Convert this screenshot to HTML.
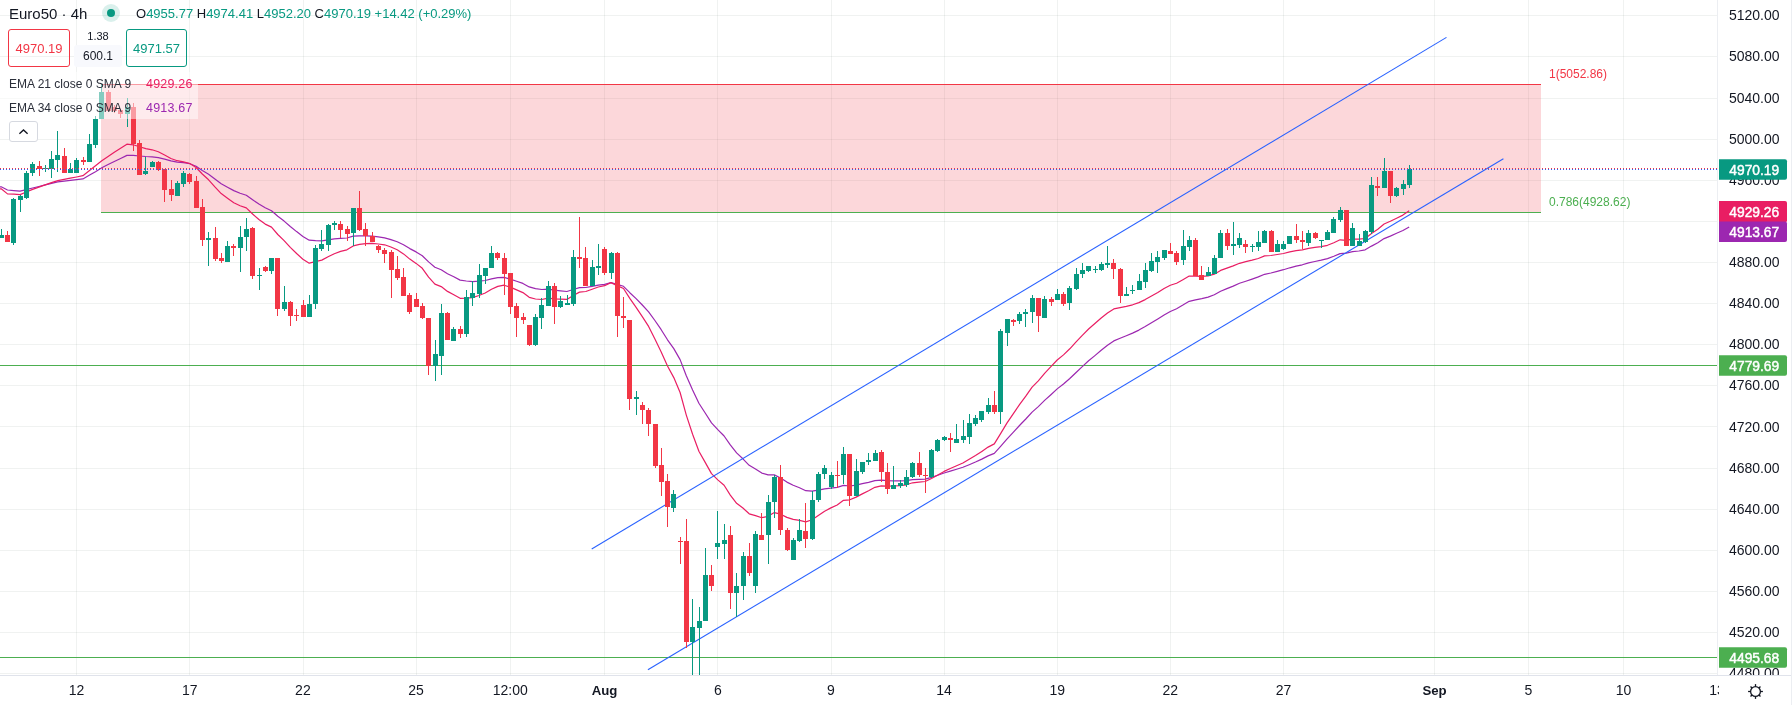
<!DOCTYPE html><html><head><meta charset="utf-8"><style>
html,body{margin:0;padding:0;background:#fff;width:1792px;height:705px;overflow:hidden;font-family:"Liberation Sans",sans-serif;}
svg{position:absolute;left:0;top:0;} body>*{will-change:transform;}
.t{font-family:"Liberation Sans",sans-serif;}
</style></head><body>
<svg width="1792" height="705" viewBox="0 0 1792 705">
<defs><clipPath id="cc"><rect x="0" y="0" width="1717" height="675"/></clipPath></defs>
<g stroke="rgba(30,55,45,0.065)" stroke-width="1" shape-rendering="crispEdges">
<line x1="0" y1="15.5" x2="1717" y2="15.5"/>
<line x1="0" y1="56.5" x2="1717" y2="56.5"/>
<line x1="0" y1="98.5" x2="1717" y2="98.5"/>
<line x1="0" y1="139.5" x2="1717" y2="139.5"/>
<line x1="0" y1="180.5" x2="1717" y2="180.5"/>
<line x1="0" y1="221.5" x2="1717" y2="221.5"/>
<line x1="0" y1="262.5" x2="1717" y2="262.5"/>
<line x1="0" y1="303.5" x2="1717" y2="303.5"/>
<line x1="0" y1="344.5" x2="1717" y2="344.5"/>
<line x1="0" y1="385.5" x2="1717" y2="385.5"/>
<line x1="0" y1="426.5" x2="1717" y2="426.5"/>
<line x1="0" y1="468.5" x2="1717" y2="468.5"/>
<line x1="0" y1="509.5" x2="1717" y2="509.5"/>
<line x1="0" y1="550.5" x2="1717" y2="550.5"/>
<line x1="0" y1="591.5" x2="1717" y2="591.5"/>
<line x1="0" y1="632.5" x2="1717" y2="632.5"/>
<line x1="0" y1="673.5" x2="1717" y2="673.5"/>
<line x1="76.5" y1="0" x2="76.5" y2="675"/>
<line x1="189.5" y1="0" x2="189.5" y2="675"/>
<line x1="303.5" y1="0" x2="303.5" y2="675"/>
<line x1="416.5" y1="0" x2="416.5" y2="675"/>
<line x1="510.5" y1="0" x2="510.5" y2="675"/>
<line x1="604.5" y1="0" x2="604.5" y2="675"/>
<line x1="717.5" y1="0" x2="717.5" y2="675"/>
<line x1="831.5" y1="0" x2="831.5" y2="675"/>
<line x1="944.5" y1="0" x2="944.5" y2="675"/>
<line x1="1057.5" y1="0" x2="1057.5" y2="675"/>
<line x1="1170.5" y1="0" x2="1170.5" y2="675"/>
<line x1="1283.5" y1="0" x2="1283.5" y2="675"/>
<line x1="1434.5" y1="0" x2="1434.5" y2="675"/>
<line x1="1528.5" y1="0" x2="1528.5" y2="675"/>
<line x1="1623.5" y1="0" x2="1623.5" y2="675"/>
</g>
<rect x="101" y="84.3" width="1440" height="127.8" fill="rgba(242,54,69,0.2)"/>
<line x1="101" y1="84.5" x2="1541" y2="84.5" stroke="#f23645" stroke-width="1" shape-rendering="crispEdges"/>
<line x1="101" y1="212.5" x2="1541" y2="212.5" stroke="#4caf50" stroke-width="1" shape-rendering="crispEdges"/>
<text class="t" x="1549" y="78" font-size="12" fill="#f23645">1(5052.86)</text>
<text class="t" x="1549" y="206" font-size="12" fill="#4caf50">0.786(4928.62)</text>
<line x1="0" y1="365.5" x2="1717" y2="365.5" stroke="#4caf50" stroke-width="1" shape-rendering="crispEdges"/>
<line x1="0" y1="657.5" x2="1717" y2="657.5" stroke="#4caf50" stroke-width="1" shape-rendering="crispEdges"/>
<polyline points="0,186.8 1.2,186.8 7.5,190.0 13.8,190.6 20.1,191.2 26.3,189.6 32.6,188.0 38.9,186.5 45.2,184.9 51.5,183.3 57.8,181.9 64.1,181.2 70.3,180.4 76.6,179.7 82.9,178.9 89.2,175.3 95.5,171.7 101.8,167.7 108.1,164.5 114.3,161.5 120.6,158.5 126.9,155.4 133.2,155.3 139.5,156.0 145.8,156.5 152.1,156.8 158.3,157.6 164.6,159.1 170.9,160.9 177.2,162.1 183.5,162.7 189.8,163.7 196.1,166.2 202.3,170.4 208.6,174.2 214.9,179.0 221.2,183.7 227.5,187.2 233.8,190.6 240.1,193.3 246.3,195.3 252.6,199.8 258.9,204.1 265.2,207.8 271.5,210.7 277.8,216.3 284.1,221.1 290.3,226.5 296.6,231.6 302.9,236.4 309.2,240.2 315.5,240.6 321.8,240.8 328.1,239.8 334.3,238.8 340.6,238.3 346.9,238.0 353.2,236.2 359.5,235.8 365.8,235.8 372.1,236.1 378.3,236.9 384.6,237.8 390.9,239.6 397.2,241.8 403.5,244.8 409.8,248.6 416.1,251.9 422.3,255.7 428.6,261.9 434.9,267.2 441.2,269.7 447.5,273.7 453.8,276.8 460.1,280.1 466.3,281.0 472.6,281.6 478.9,281.2 485.2,280.5 491.5,278.8 497.8,277.6 504.1,277.4 510.3,279.1 516.6,281.3 522.9,283.4 529.2,286.9 535.5,288.6 541.8,289.5 548.1,289.2 554.3,290.2 560.6,290.8 566.9,291.5 573.2,289.5 579.5,287.7 585.8,287.5 592.1,286.3 598.3,285.1 604.6,284.4 610.9,282.6 617.2,284.4 623.5,286.3 629.8,292.7 636.1,298.6 642.3,305.0 648.6,311.8 654.9,320.5 661.2,329.7 667.5,339.8 673.8,348.6 680.1,359.6 686.3,375.7 692.6,390.0 698.9,403.2 705.2,413.0 711.5,422.9 717.8,429.7 724.1,436.0 730.3,444.9 736.6,452.9 742.9,458.8 749.2,465.3 755.5,469.1 761.8,473.1 768.1,474.8 774.3,474.9 780.6,478.0 786.9,482.1 793.2,485.3 799.5,487.8 805.8,490.7 812.1,491.2 818.3,490.2 824.6,488.9 830.9,488.1 837.2,487.4 843.5,485.4 849.8,486.0 856.1,485.1 862.3,483.7 868.6,482.3 874.9,480.6 881.2,480.1 887.5,480.6 893.8,480.8 900.1,480.9 906.3,480.7 912.6,479.7 918.9,479.4 925.2,479.1 931.5,477.4 937.8,475.2 944.1,473.0 950.3,471.1 956.6,469.2 962.9,467.3 969.2,464.7 975.5,462.0 981.8,459.1 988.1,455.9 994.3,453.4 1000.6,446.4 1006.9,439.1 1013.2,432.3 1019.5,425.5 1025.8,419.0 1032.1,412.1 1038.3,406.6 1044.6,400.4 1050.9,394.7 1057.2,388.9 1063.5,384.0 1069.8,378.5 1076.1,372.5 1082.3,366.6 1088.6,360.8 1094.9,355.6 1101.2,350.3 1107.5,345.3 1113.8,340.9 1120.1,338.3 1126.3,335.7 1132.6,333.1 1138.9,330.1 1145.2,326.6 1151.5,322.8 1157.8,319.0 1164.1,315.1 1170.3,311.5 1176.6,308.7 1182.9,305.1 1189.2,301.3 1195.5,299.8 1201.8,298.7 1208.1,297.1 1214.3,294.8 1220.6,291.3 1226.9,288.6 1233.2,286.1 1239.5,283.3 1245.8,281.2 1252.1,279.1 1258.3,276.9 1264.6,274.3 1270.9,273.0 1277.2,271.3 1283.5,269.7 1289.8,267.8 1296.1,266.2 1302.3,264.8 1308.6,262.9 1314.9,261.5 1321.2,260.2 1327.5,258.6 1333.8,256.3 1340.1,253.6 1346.3,253.1 1352.6,251.6 1358.9,251.0 1365.2,249.8 1371.5,246.1 1377.8,242.7 1384.1,238.6 1390.3,236.1 1396.6,233.3 1402.9,230.5 1409.2,226.9" fill="none" stroke="#9c27b0" stroke-width="1.2" stroke-linejoin="round"/>
<polyline points="0,188.8 1.2,188.8 7.5,193.9 13.8,194.2 20.1,194.6 26.3,192.0 32.6,189.4 38.9,187.1 45.2,184.9 51.5,182.6 57.8,180.6 64.1,179.4 70.3,178.2 76.6,177.0 82.9,175.7 89.2,170.8 95.5,165.7 101.8,160.8 108.1,156.6 114.3,152.3 120.6,148.3 126.9,144.2 133.2,144.8 139.5,146.7 145.8,148.6 152.1,149.8 158.3,151.8 164.6,155.0 170.9,158.5 177.2,160.7 183.5,161.8 189.8,163.5 196.1,167.5 202.3,174.0 208.6,179.8 214.9,186.9 221.2,193.6 227.5,198.3 233.8,202.8 240.1,205.8 246.3,207.9 252.6,214.0 258.9,219.5 265.2,224.1 271.5,227.1 277.8,234.5 284.1,240.6 290.3,247.4 296.6,253.5 302.9,259.2 309.2,263.2 315.5,261.7 321.8,260.1 328.1,256.8 334.3,253.7 340.6,251.4 346.9,249.8 353.2,245.9 359.5,244.4 365.8,243.6 372.1,243.4 378.3,244.0 384.6,244.8 390.9,247.0 397.2,249.8 403.5,253.9 409.8,259.1 416.1,263.4 422.3,268.3 428.6,277.1 434.9,284.1 441.2,286.6 447.5,291.4 453.8,294.8 460.1,298.3 466.3,298.1 472.6,297.6 478.9,295.5 485.2,293.0 491.5,289.2 497.8,286.4 504.1,285.2 510.3,287.1 516.6,289.9 522.9,292.6 529.2,297.3 535.5,299.0 541.8,299.5 548.1,298.2 554.3,298.9 560.6,299.1 566.9,299.4 573.2,295.5 579.5,292.1 585.8,291.5 592.1,289.2 598.3,287.0 604.6,285.7 610.9,282.6 617.2,285.6 623.5,288.5 629.8,298.4 636.1,307.3 642.3,316.6 648.6,326.4 654.9,339.0 661.2,351.9 667.5,366.0 673.8,377.6 680.1,392.5 686.3,415.1 692.6,434.3 698.9,451.2 705.2,462.4 711.5,473.6 717.8,479.9 724.1,485.3 730.3,495.1 736.6,503.3 742.9,508.0 749.2,513.8 755.5,515.6 761.8,517.7 768.1,516.3 774.3,512.6 780.6,514.2 786.9,517.4 793.2,519.4 799.5,520.3 805.8,521.9 812.1,519.8 818.3,515.6 824.6,511.2 830.9,507.9 837.2,505.0 843.5,500.3 849.8,499.8 856.1,497.1 862.3,493.9 868.6,490.8 874.9,487.3 881.2,485.9 887.5,486.1 893.8,486.0 900.1,485.6 906.3,484.8 912.6,482.8 918.9,482.1 925.2,481.5 931.5,478.5 937.8,475.0 944.1,471.4 950.3,468.5 956.6,465.8 962.9,463.0 969.2,459.3 975.5,455.5 981.8,451.4 988.1,447.1 994.3,443.9 1000.6,433.6 1006.9,423.1 1013.2,413.8 1019.5,404.7 1025.8,396.2 1032.1,387.2 1038.3,380.8 1044.6,373.3 1050.9,366.7 1057.2,360.0 1063.5,354.9 1069.8,348.8 1076.1,341.9 1082.3,335.3 1088.6,329.0 1094.9,323.5 1101.2,318.0 1107.5,313.0 1113.8,308.9 1120.1,307.7 1126.3,306.4 1132.6,304.8 1138.9,302.6 1145.2,299.6 1151.5,296.0 1157.8,292.5 1164.1,288.5 1170.3,285.3 1176.6,283.2 1182.9,279.7 1189.2,276.1 1195.5,276.1 1201.8,276.3 1208.1,275.9 1214.3,274.2 1220.6,270.4 1226.9,268.1 1233.2,265.9 1239.5,263.3 1245.8,261.7 1252.1,260.2 1258.3,258.5 1264.6,255.9 1270.9,255.5 1277.2,254.5 1283.5,253.5 1289.8,251.8 1296.1,250.7 1302.3,249.9 1308.6,248.3 1314.9,247.4 1321.2,246.7 1327.5,245.3 1333.8,242.8 1340.1,239.8 1346.3,240.3 1352.6,239.1 1358.9,239.2 1365.2,238.5 1371.5,233.5 1377.8,229.3 1384.1,224.0 1390.3,221.3 1396.6,218.2 1402.9,215.1 1409.2,210.8" fill="none" stroke="#e91e63" stroke-width="1.2" stroke-linejoin="round"/>
<line x1="591.7" y1="549" x2="1446.5" y2="37.4" stroke="#2962ff" stroke-width="1.1"/>
<line x1="647.9" y1="669.8" x2="1503.4" y2="158.7" stroke="#2962ff" stroke-width="1.1"/>
<g clip-path="url(#cc)" shape-rendering="crispEdges">
<rect x="1" y="229" width="1" height="9" fill="#089981"/>
<rect x="-1" y="235" width="5" height="3" fill="#089981"/>
<rect x="7" y="231" width="1" height="11" fill="#f23645"/>
<rect x="5" y="235" width="5" height="7" fill="#f23645"/>
<rect x="13" y="198" width="1" height="47" fill="#089981"/>
<rect x="11" y="199" width="5" height="44" fill="#089981"/>
<rect x="20" y="195" width="1" height="17" fill="#089981"/>
<rect x="18" y="196" width="5" height="4" fill="#089981"/>
<rect x="26" y="171" width="1" height="28" fill="#089981"/>
<rect x="24" y="173" width="5" height="25" fill="#089981"/>
<rect x="32" y="162" width="1" height="14" fill="#089981"/>
<rect x="30" y="164" width="5" height="9" fill="#089981"/>
<rect x="39" y="161" width="1" height="15" fill="#f23645"/>
<rect x="37" y="166" width="5" height="3" fill="#f23645"/>
<rect x="45" y="165" width="1" height="7" fill="#089981"/>
<rect x="43" y="168" width="5" height="1" fill="#089981"/>
<rect x="51" y="151" width="1" height="27" fill="#089981"/>
<rect x="49" y="159" width="5" height="10" fill="#089981"/>
<rect x="57" y="131" width="1" height="41" fill="#089981"/>
<rect x="55" y="155" width="5" height="5" fill="#089981"/>
<rect x="64" y="148" width="1" height="25" fill="#f23645"/>
<rect x="62" y="156" width="5" height="17" fill="#f23645"/>
<rect x="70" y="163" width="1" height="10" fill="#089981"/>
<rect x="68" y="169" width="5" height="4" fill="#089981"/>
<rect x="76" y="158" width="1" height="15" fill="#089981"/>
<rect x="74" y="160" width="5" height="13" fill="#089981"/>
<rect x="83" y="157" width="1" height="8" fill="#f23645"/>
<rect x="81" y="160" width="5" height="2" fill="#f23645"/>
<rect x="89" y="134" width="1" height="28" fill="#089981"/>
<rect x="87" y="144" width="5" height="18" fill="#089981"/>
<rect x="95" y="116" width="1" height="32" fill="#089981"/>
<rect x="93" y="119" width="5" height="26" fill="#089981"/>
<rect x="101" y="84" width="1" height="35" fill="#089981"/>
<rect x="99" y="92" width="5" height="27" fill="#089981"/>
<rect x="108" y="90" width="1" height="21" fill="#f23645"/>
<rect x="106" y="92" width="5" height="19" fill="#f23645"/>
<rect x="114" y="105" width="1" height="8" fill="#f23645"/>
<rect x="112" y="107" width="5" height="4" fill="#f23645"/>
<rect x="120" y="109" width="1" height="9" fill="#f23645"/>
<rect x="118" y="110" width="5" height="4" fill="#f23645"/>
<rect x="127" y="98" width="1" height="29" fill="#089981"/>
<rect x="125" y="107" width="5" height="7" fill="#089981"/>
<rect x="133" y="103" width="1" height="48" fill="#f23645"/>
<rect x="131" y="107" width="5" height="37" fill="#f23645"/>
<rect x="139" y="140" width="1" height="35" fill="#f23645"/>
<rect x="137" y="143" width="5" height="32" fill="#f23645"/>
<rect x="145" y="157" width="1" height="18" fill="#089981"/>
<rect x="143" y="171" width="5" height="3" fill="#089981"/>
<rect x="152" y="161" width="1" height="6" fill="#089981"/>
<rect x="150" y="162" width="5" height="5" fill="#089981"/>
<rect x="158" y="161" width="1" height="10" fill="#f23645"/>
<rect x="156" y="162" width="5" height="8" fill="#f23645"/>
<rect x="164" y="169" width="1" height="33" fill="#f23645"/>
<rect x="162" y="169" width="5" height="21" fill="#f23645"/>
<rect x="171" y="180" width="1" height="21" fill="#f23645"/>
<rect x="169" y="189" width="5" height="6" fill="#f23645"/>
<rect x="177" y="181" width="1" height="15" fill="#089981"/>
<rect x="175" y="183" width="5" height="13" fill="#089981"/>
<rect x="183" y="171" width="1" height="16" fill="#089981"/>
<rect x="181" y="173" width="5" height="11" fill="#089981"/>
<rect x="189" y="173" width="1" height="11" fill="#f23645"/>
<rect x="187" y="174" width="5" height="8" fill="#f23645"/>
<rect x="196" y="176" width="1" height="32" fill="#f23645"/>
<rect x="194" y="181" width="5" height="27" fill="#f23645"/>
<rect x="202" y="199" width="1" height="47" fill="#f23645"/>
<rect x="200" y="207" width="5" height="33" fill="#f23645"/>
<rect x="208" y="232" width="1" height="34" fill="#089981"/>
<rect x="206" y="238" width="5" height="2" fill="#089981"/>
<rect x="215" y="227" width="1" height="34" fill="#f23645"/>
<rect x="213" y="238" width="5" height="21" fill="#f23645"/>
<rect x="221" y="253" width="1" height="10" fill="#f23645"/>
<rect x="219" y="258" width="5" height="3" fill="#f23645"/>
<rect x="227" y="241" width="1" height="21" fill="#089981"/>
<rect x="225" y="246" width="5" height="16" fill="#089981"/>
<rect x="233" y="244" width="1" height="12" fill="#f23645"/>
<rect x="231" y="246" width="5" height="2" fill="#f23645"/>
<rect x="240" y="226" width="1" height="46" fill="#089981"/>
<rect x="238" y="237" width="5" height="11" fill="#089981"/>
<rect x="246" y="218" width="1" height="33" fill="#089981"/>
<rect x="244" y="229" width="5" height="8" fill="#089981"/>
<rect x="252" y="227" width="1" height="52" fill="#f23645"/>
<rect x="250" y="228" width="5" height="48" fill="#f23645"/>
<rect x="259" y="268" width="1" height="22" fill="#089981"/>
<rect x="257" y="275" width="5" height="1" fill="#089981"/>
<rect x="265" y="266" width="1" height="6" fill="#f23645"/>
<rect x="263" y="267" width="5" height="4" fill="#f23645"/>
<rect x="271" y="258" width="1" height="16" fill="#089981"/>
<rect x="269" y="258" width="5" height="13" fill="#089981"/>
<rect x="277" y="258" width="1" height="58" fill="#f23645"/>
<rect x="275" y="258" width="5" height="51" fill="#f23645"/>
<rect x="284" y="286" width="1" height="25" fill="#089981"/>
<rect x="282" y="302" width="5" height="7" fill="#089981"/>
<rect x="290" y="301" width="1" height="25" fill="#f23645"/>
<rect x="288" y="302" width="5" height="14" fill="#f23645"/>
<rect x="296" y="309" width="1" height="12" fill="#f23645"/>
<rect x="294" y="315" width="5" height="1" fill="#f23645"/>
<rect x="303" y="300" width="1" height="17" fill="#f23645"/>
<rect x="301" y="305" width="5" height="12" fill="#f23645"/>
<rect x="309" y="295" width="1" height="22" fill="#089981"/>
<rect x="307" y="304" width="5" height="13" fill="#089981"/>
<rect x="315" y="245" width="1" height="64" fill="#089981"/>
<rect x="313" y="248" width="5" height="56" fill="#089981"/>
<rect x="321" y="230" width="1" height="21" fill="#089981"/>
<rect x="319" y="244" width="5" height="5" fill="#089981"/>
<rect x="328" y="224" width="1" height="27" fill="#089981"/>
<rect x="326" y="225" width="5" height="20" fill="#089981"/>
<rect x="334" y="221" width="1" height="9" fill="#089981"/>
<rect x="332" y="223" width="5" height="2" fill="#089981"/>
<rect x="340" y="221" width="1" height="17" fill="#f23645"/>
<rect x="338" y="224" width="5" height="6" fill="#f23645"/>
<rect x="347" y="226" width="1" height="15" fill="#f23645"/>
<rect x="345" y="229" width="5" height="5" fill="#f23645"/>
<rect x="353" y="208" width="1" height="38" fill="#089981"/>
<rect x="351" y="208" width="5" height="25" fill="#089981"/>
<rect x="359" y="191" width="1" height="40" fill="#f23645"/>
<rect x="357" y="208" width="5" height="22" fill="#f23645"/>
<rect x="365" y="223" width="1" height="23" fill="#f23645"/>
<rect x="363" y="229" width="5" height="7" fill="#f23645"/>
<rect x="372" y="232" width="1" height="10" fill="#f23645"/>
<rect x="370" y="236" width="5" height="6" fill="#f23645"/>
<rect x="378" y="245" width="1" height="8" fill="#f23645"/>
<rect x="376" y="246" width="5" height="4" fill="#f23645"/>
<rect x="384" y="248" width="1" height="15" fill="#f23645"/>
<rect x="382" y="250" width="5" height="4" fill="#f23645"/>
<rect x="391" y="250" width="1" height="48" fill="#f23645"/>
<rect x="389" y="252" width="5" height="18" fill="#f23645"/>
<rect x="397" y="256" width="1" height="24" fill="#f23645"/>
<rect x="395" y="269" width="5" height="9" fill="#f23645"/>
<rect x="403" y="268" width="1" height="28" fill="#f23645"/>
<rect x="401" y="277" width="5" height="19" fill="#f23645"/>
<rect x="409" y="293" width="1" height="21" fill="#f23645"/>
<rect x="407" y="295" width="5" height="17" fill="#f23645"/>
<rect x="416" y="293" width="1" height="14" fill="#f23645"/>
<rect x="414" y="299" width="5" height="8" fill="#f23645"/>
<rect x="422" y="303" width="1" height="16" fill="#f23645"/>
<rect x="420" y="306" width="5" height="12" fill="#f23645"/>
<rect x="428" y="318" width="1" height="57" fill="#f23645"/>
<rect x="426" y="318" width="5" height="48" fill="#f23645"/>
<rect x="435" y="340" width="1" height="41" fill="#089981"/>
<rect x="433" y="354" width="5" height="12" fill="#089981"/>
<rect x="441" y="304" width="1" height="71" fill="#089981"/>
<rect x="439" y="313" width="5" height="43" fill="#089981"/>
<rect x="447" y="312" width="1" height="28" fill="#f23645"/>
<rect x="445" y="313" width="5" height="27" fill="#f23645"/>
<rect x="453" y="327" width="1" height="14" fill="#089981"/>
<rect x="451" y="329" width="5" height="12" fill="#089981"/>
<rect x="460" y="326" width="1" height="12" fill="#f23645"/>
<rect x="458" y="329" width="5" height="5" fill="#f23645"/>
<rect x="466" y="290" width="1" height="47" fill="#089981"/>
<rect x="464" y="297" width="5" height="37" fill="#089981"/>
<rect x="472" y="281" width="1" height="25" fill="#089981"/>
<rect x="470" y="293" width="5" height="5" fill="#089981"/>
<rect x="479" y="264" width="1" height="34" fill="#089981"/>
<rect x="477" y="275" width="5" height="19" fill="#089981"/>
<rect x="485" y="268" width="1" height="16" fill="#089981"/>
<rect x="483" y="268" width="5" height="8" fill="#089981"/>
<rect x="491" y="246" width="1" height="22" fill="#089981"/>
<rect x="489" y="253" width="5" height="15" fill="#089981"/>
<rect x="497" y="252" width="1" height="8" fill="#f23645"/>
<rect x="495" y="253" width="5" height="5" fill="#f23645"/>
<rect x="504" y="253" width="1" height="42" fill="#f23645"/>
<rect x="502" y="258" width="5" height="16" fill="#f23645"/>
<rect x="510" y="273" width="1" height="41" fill="#f23645"/>
<rect x="508" y="273" width="5" height="34" fill="#f23645"/>
<rect x="516" y="303" width="1" height="34" fill="#f23645"/>
<rect x="514" y="306" width="5" height="12" fill="#f23645"/>
<rect x="523" y="313" width="1" height="11" fill="#f23645"/>
<rect x="521" y="317" width="5" height="3" fill="#f23645"/>
<rect x="529" y="325" width="1" height="21" fill="#f23645"/>
<rect x="527" y="325" width="5" height="20" fill="#f23645"/>
<rect x="535" y="314" width="1" height="32" fill="#089981"/>
<rect x="533" y="317" width="5" height="28" fill="#089981"/>
<rect x="541" y="298" width="1" height="31" fill="#089981"/>
<rect x="539" y="305" width="5" height="13" fill="#089981"/>
<rect x="548" y="281" width="1" height="25" fill="#089981"/>
<rect x="546" y="286" width="5" height="20" fill="#089981"/>
<rect x="554" y="283" width="1" height="41" fill="#f23645"/>
<rect x="552" y="286" width="5" height="21" fill="#f23645"/>
<rect x="560" y="296" width="1" height="12" fill="#089981"/>
<rect x="558" y="301" width="5" height="6" fill="#089981"/>
<rect x="567" y="295" width="1" height="10" fill="#089981"/>
<rect x="565" y="303" width="5" height="2" fill="#089981"/>
<rect x="573" y="250" width="1" height="56" fill="#089981"/>
<rect x="571" y="257" width="5" height="47" fill="#089981"/>
<rect x="579" y="217" width="1" height="51" fill="#f23645"/>
<rect x="577" y="257" width="5" height="2" fill="#f23645"/>
<rect x="585" y="247" width="1" height="39" fill="#f23645"/>
<rect x="583" y="258" width="5" height="28" fill="#f23645"/>
<rect x="592" y="260" width="1" height="26" fill="#089981"/>
<rect x="590" y="267" width="5" height="19" fill="#089981"/>
<rect x="598" y="244" width="1" height="31" fill="#089981"/>
<rect x="596" y="266" width="5" height="2" fill="#089981"/>
<rect x="604" y="247" width="1" height="28" fill="#f23645"/>
<rect x="602" y="249" width="5" height="24" fill="#f23645"/>
<rect x="611" y="252" width="1" height="27" fill="#089981"/>
<rect x="609" y="253" width="5" height="20" fill="#089981"/>
<rect x="617" y="252" width="1" height="85" fill="#f23645"/>
<rect x="615" y="253" width="5" height="63" fill="#f23645"/>
<rect x="623" y="297" width="1" height="31" fill="#f23645"/>
<rect x="621" y="316" width="5" height="2" fill="#f23645"/>
<rect x="629" y="320" width="1" height="90" fill="#f23645"/>
<rect x="627" y="320" width="5" height="79" fill="#f23645"/>
<rect x="636" y="391" width="1" height="24" fill="#089981"/>
<rect x="634" y="397" width="5" height="2" fill="#089981"/>
<rect x="642" y="402" width="1" height="22" fill="#f23645"/>
<rect x="640" y="405" width="5" height="5" fill="#f23645"/>
<rect x="648" y="408" width="1" height="28" fill="#f23645"/>
<rect x="646" y="410" width="5" height="14" fill="#f23645"/>
<rect x="655" y="424" width="1" height="44" fill="#f23645"/>
<rect x="653" y="424" width="5" height="42" fill="#f23645"/>
<rect x="661" y="448" width="1" height="48" fill="#f23645"/>
<rect x="659" y="465" width="5" height="17" fill="#f23645"/>
<rect x="667" y="474" width="1" height="53" fill="#f23645"/>
<rect x="665" y="481" width="5" height="26" fill="#f23645"/>
<rect x="673" y="490" width="1" height="22" fill="#089981"/>
<rect x="671" y="494" width="5" height="14" fill="#089981"/>
<rect x="680" y="537" width="1" height="27" fill="#f23645"/>
<rect x="678" y="541" width="5" height="1" fill="#f23645"/>
<rect x="686" y="519" width="1" height="129" fill="#f23645"/>
<rect x="684" y="541" width="5" height="101" fill="#f23645"/>
<rect x="692" y="599" width="1" height="76" fill="#089981"/>
<rect x="690" y="627" width="5" height="15" fill="#089981"/>
<rect x="699" y="607" width="1" height="68" fill="#089981"/>
<rect x="697" y="621" width="5" height="7" fill="#089981"/>
<rect x="705" y="548" width="1" height="73" fill="#089981"/>
<rect x="703" y="575" width="5" height="46" fill="#089981"/>
<rect x="711" y="565" width="1" height="26" fill="#f23645"/>
<rect x="709" y="575" width="5" height="11" fill="#f23645"/>
<rect x="717" y="511" width="1" height="48" fill="#089981"/>
<rect x="715" y="543" width="5" height="4" fill="#089981"/>
<rect x="724" y="524" width="1" height="35" fill="#089981"/>
<rect x="722" y="540" width="5" height="4" fill="#089981"/>
<rect x="730" y="526" width="1" height="83" fill="#f23645"/>
<rect x="728" y="535" width="5" height="58" fill="#f23645"/>
<rect x="736" y="573" width="1" height="44" fill="#089981"/>
<rect x="734" y="586" width="5" height="7" fill="#089981"/>
<rect x="743" y="552" width="1" height="48" fill="#089981"/>
<rect x="741" y="556" width="5" height="30" fill="#089981"/>
<rect x="749" y="543" width="1" height="33" fill="#f23645"/>
<rect x="747" y="556" width="5" height="17" fill="#f23645"/>
<rect x="755" y="531" width="1" height="62" fill="#089981"/>
<rect x="753" y="534" width="5" height="52" fill="#089981"/>
<rect x="761" y="513" width="1" height="27" fill="#f23645"/>
<rect x="759" y="535" width="5" height="5" fill="#f23645"/>
<rect x="768" y="495" width="1" height="69" fill="#089981"/>
<rect x="766" y="502" width="5" height="33" fill="#089981"/>
<rect x="774" y="475" width="1" height="43" fill="#089981"/>
<rect x="772" y="477" width="5" height="25" fill="#089981"/>
<rect x="780" y="465" width="1" height="70" fill="#f23645"/>
<rect x="778" y="477" width="5" height="53" fill="#f23645"/>
<rect x="787" y="528" width="1" height="23" fill="#f23645"/>
<rect x="785" y="530" width="5" height="20" fill="#f23645"/>
<rect x="793" y="538" width="1" height="22" fill="#089981"/>
<rect x="791" y="540" width="5" height="20" fill="#089981"/>
<rect x="799" y="519" width="1" height="23" fill="#089981"/>
<rect x="797" y="530" width="5" height="11" fill="#089981"/>
<rect x="805" y="503" width="1" height="45" fill="#f23645"/>
<rect x="803" y="531" width="5" height="8" fill="#f23645"/>
<rect x="812" y="491" width="1" height="49" fill="#089981"/>
<rect x="810" y="500" width="5" height="39" fill="#089981"/>
<rect x="818" y="472" width="1" height="30" fill="#089981"/>
<rect x="816" y="474" width="5" height="26" fill="#089981"/>
<rect x="824" y="465" width="1" height="14" fill="#089981"/>
<rect x="822" y="468" width="5" height="6" fill="#089981"/>
<rect x="831" y="472" width="1" height="17" fill="#089981"/>
<rect x="829" y="475" width="5" height="12" fill="#089981"/>
<rect x="837" y="461" width="1" height="27" fill="#f23645"/>
<rect x="835" y="475" width="5" height="1" fill="#f23645"/>
<rect x="843" y="447" width="1" height="37" fill="#089981"/>
<rect x="841" y="454" width="5" height="21" fill="#089981"/>
<rect x="849" y="454" width="1" height="52" fill="#f23645"/>
<rect x="847" y="454" width="5" height="42" fill="#f23645"/>
<rect x="856" y="459" width="1" height="37" fill="#089981"/>
<rect x="854" y="471" width="5" height="25" fill="#089981"/>
<rect x="862" y="462" width="1" height="12" fill="#089981"/>
<rect x="860" y="462" width="5" height="10" fill="#089981"/>
<rect x="868" y="453" width="1" height="12" fill="#089981"/>
<rect x="866" y="460" width="5" height="2" fill="#089981"/>
<rect x="875" y="450" width="1" height="11" fill="#089981"/>
<rect x="873" y="453" width="5" height="8" fill="#089981"/>
<rect x="881" y="450" width="1" height="32" fill="#f23645"/>
<rect x="879" y="452" width="5" height="20" fill="#f23645"/>
<rect x="887" y="463" width="1" height="31" fill="#f23645"/>
<rect x="885" y="472" width="5" height="17" fill="#f23645"/>
<rect x="893" y="466" width="1" height="23" fill="#089981"/>
<rect x="891" y="485" width="5" height="4" fill="#089981"/>
<rect x="900" y="480" width="1" height="8" fill="#089981"/>
<rect x="898" y="483" width="5" height="3" fill="#089981"/>
<rect x="906" y="470" width="1" height="17" fill="#089981"/>
<rect x="904" y="477" width="5" height="8" fill="#089981"/>
<rect x="912" y="462" width="1" height="16" fill="#089981"/>
<rect x="910" y="463" width="5" height="14" fill="#089981"/>
<rect x="919" y="452" width="1" height="25" fill="#f23645"/>
<rect x="917" y="463" width="5" height="12" fill="#f23645"/>
<rect x="925" y="468" width="1" height="25" fill="#f23645"/>
<rect x="923" y="475" width="5" height="1" fill="#f23645"/>
<rect x="931" y="449" width="1" height="29" fill="#089981"/>
<rect x="929" y="450" width="5" height="27" fill="#089981"/>
<rect x="937" y="439" width="1" height="13" fill="#089981"/>
<rect x="935" y="440" width="5" height="11" fill="#089981"/>
<rect x="944" y="436" width="1" height="5" fill="#089981"/>
<rect x="942" y="437" width="5" height="3" fill="#089981"/>
<rect x="950" y="433" width="1" height="19" fill="#f23645"/>
<rect x="948" y="438" width="5" height="2" fill="#f23645"/>
<rect x="956" y="424" width="1" height="19" fill="#089981"/>
<rect x="954" y="439" width="5" height="4" fill="#089981"/>
<rect x="963" y="420" width="1" height="23" fill="#089981"/>
<rect x="961" y="436" width="5" height="4" fill="#089981"/>
<rect x="969" y="414" width="1" height="30" fill="#089981"/>
<rect x="967" y="423" width="5" height="14" fill="#089981"/>
<rect x="975" y="415" width="1" height="11" fill="#089981"/>
<rect x="973" y="418" width="5" height="6" fill="#089981"/>
<rect x="981" y="411" width="1" height="11" fill="#089981"/>
<rect x="979" y="411" width="5" height="9" fill="#089981"/>
<rect x="988" y="398" width="1" height="16" fill="#089981"/>
<rect x="986" y="405" width="5" height="7" fill="#089981"/>
<rect x="994" y="391" width="1" height="23" fill="#f23645"/>
<rect x="992" y="405" width="5" height="7" fill="#f23645"/>
<rect x="1000" y="329" width="1" height="95" fill="#089981"/>
<rect x="998" y="331" width="5" height="81" fill="#089981"/>
<rect x="1007" y="319" width="1" height="27" fill="#089981"/>
<rect x="1005" y="319" width="5" height="14" fill="#089981"/>
<rect x="1013" y="319" width="1" height="7" fill="#f23645"/>
<rect x="1011" y="320" width="5" height="2" fill="#f23645"/>
<rect x="1019" y="312" width="1" height="12" fill="#089981"/>
<rect x="1017" y="314" width="5" height="7" fill="#089981"/>
<rect x="1025" y="309" width="1" height="18" fill="#089981"/>
<rect x="1023" y="312" width="5" height="2" fill="#089981"/>
<rect x="1032" y="295" width="1" height="28" fill="#089981"/>
<rect x="1030" y="298" width="5" height="14" fill="#089981"/>
<rect x="1038" y="298" width="1" height="34" fill="#f23645"/>
<rect x="1036" y="298" width="5" height="18" fill="#f23645"/>
<rect x="1044" y="296" width="1" height="22" fill="#089981"/>
<rect x="1042" y="299" width="5" height="19" fill="#089981"/>
<rect x="1051" y="297" width="1" height="9" fill="#f23645"/>
<rect x="1049" y="299" width="5" height="3" fill="#f23645"/>
<rect x="1057" y="289" width="1" height="11" fill="#089981"/>
<rect x="1055" y="294" width="5" height="6" fill="#089981"/>
<rect x="1063" y="292" width="1" height="14" fill="#f23645"/>
<rect x="1061" y="294" width="5" height="10" fill="#f23645"/>
<rect x="1069" y="286" width="1" height="24" fill="#089981"/>
<rect x="1067" y="288" width="5" height="15" fill="#089981"/>
<rect x="1076" y="268" width="1" height="22" fill="#089981"/>
<rect x="1074" y="274" width="5" height="15" fill="#089981"/>
<rect x="1082" y="263" width="1" height="15" fill="#089981"/>
<rect x="1080" y="270" width="5" height="4" fill="#089981"/>
<rect x="1088" y="266" width="1" height="6" fill="#089981"/>
<rect x="1086" y="266" width="5" height="5" fill="#089981"/>
<rect x="1095" y="266" width="1" height="7" fill="#089981"/>
<rect x="1093" y="269" width="5" height="1" fill="#089981"/>
<rect x="1101" y="262" width="1" height="9" fill="#089981"/>
<rect x="1099" y="264" width="5" height="6" fill="#089981"/>
<rect x="1107" y="246" width="1" height="22" fill="#089981"/>
<rect x="1105" y="263" width="5" height="2" fill="#089981"/>
<rect x="1113" y="259" width="1" height="20" fill="#f23645"/>
<rect x="1111" y="263" width="5" height="6" fill="#f23645"/>
<rect x="1120" y="268" width="1" height="35" fill="#f23645"/>
<rect x="1118" y="269" width="5" height="27" fill="#f23645"/>
<rect x="1126" y="287" width="1" height="9" fill="#089981"/>
<rect x="1124" y="294" width="5" height="2" fill="#089981"/>
<rect x="1132" y="285" width="1" height="9" fill="#089981"/>
<rect x="1130" y="290" width="5" height="1" fill="#089981"/>
<rect x="1139" y="274" width="1" height="16" fill="#089981"/>
<rect x="1137" y="281" width="5" height="9" fill="#089981"/>
<rect x="1145" y="263" width="1" height="25" fill="#089981"/>
<rect x="1143" y="270" width="5" height="12" fill="#089981"/>
<rect x="1151" y="253" width="1" height="19" fill="#089981"/>
<rect x="1149" y="261" width="5" height="10" fill="#089981"/>
<rect x="1157" y="251" width="1" height="22" fill="#089981"/>
<rect x="1155" y="257" width="5" height="5" fill="#089981"/>
<rect x="1164" y="250" width="1" height="10" fill="#089981"/>
<rect x="1162" y="250" width="5" height="8" fill="#089981"/>
<rect x="1170" y="243" width="1" height="11" fill="#f23645"/>
<rect x="1168" y="251" width="5" height="3" fill="#f23645"/>
<rect x="1176" y="251" width="1" height="14" fill="#f23645"/>
<rect x="1174" y="253" width="5" height="9" fill="#f23645"/>
<rect x="1183" y="230" width="1" height="35" fill="#089981"/>
<rect x="1181" y="246" width="5" height="14" fill="#089981"/>
<rect x="1189" y="236" width="1" height="15" fill="#089981"/>
<rect x="1187" y="240" width="5" height="7" fill="#089981"/>
<rect x="1195" y="238" width="1" height="38" fill="#f23645"/>
<rect x="1193" y="240" width="5" height="36" fill="#f23645"/>
<rect x="1201" y="266" width="1" height="14" fill="#f23645"/>
<rect x="1199" y="275" width="5" height="5" fill="#f23645"/>
<rect x="1208" y="267" width="1" height="9" fill="#089981"/>
<rect x="1206" y="272" width="5" height="4" fill="#089981"/>
<rect x="1214" y="255" width="1" height="19" fill="#089981"/>
<rect x="1212" y="258" width="5" height="16" fill="#089981"/>
<rect x="1220" y="230" width="1" height="28" fill="#089981"/>
<rect x="1218" y="233" width="5" height="25" fill="#089981"/>
<rect x="1227" y="229" width="1" height="21" fill="#f23645"/>
<rect x="1225" y="233" width="5" height="13" fill="#f23645"/>
<rect x="1233" y="222" width="1" height="33" fill="#089981"/>
<rect x="1231" y="244" width="5" height="2" fill="#089981"/>
<rect x="1239" y="233" width="1" height="15" fill="#089981"/>
<rect x="1237" y="238" width="5" height="7" fill="#089981"/>
<rect x="1245" y="240" width="1" height="13" fill="#f23645"/>
<rect x="1243" y="244" width="5" height="3" fill="#f23645"/>
<rect x="1252" y="244" width="1" height="8" fill="#089981"/>
<rect x="1250" y="246" width="5" height="1" fill="#089981"/>
<rect x="1258" y="231" width="1" height="20" fill="#089981"/>
<rect x="1256" y="242" width="5" height="5" fill="#089981"/>
<rect x="1264" y="230" width="1" height="13" fill="#089981"/>
<rect x="1262" y="231" width="5" height="12" fill="#089981"/>
<rect x="1271" y="230" width="1" height="22" fill="#f23645"/>
<rect x="1269" y="231" width="5" height="21" fill="#f23645"/>
<rect x="1277" y="240" width="1" height="12" fill="#089981"/>
<rect x="1275" y="244" width="5" height="8" fill="#089981"/>
<rect x="1283" y="241" width="1" height="9" fill="#089981"/>
<rect x="1281" y="244" width="5" height="5" fill="#089981"/>
<rect x="1289" y="236" width="1" height="8" fill="#089981"/>
<rect x="1287" y="236" width="5" height="8" fill="#089981"/>
<rect x="1296" y="224" width="1" height="19" fill="#f23645"/>
<rect x="1294" y="236" width="5" height="4" fill="#f23645"/>
<rect x="1302" y="231" width="1" height="18" fill="#f23645"/>
<rect x="1300" y="240" width="5" height="2" fill="#f23645"/>
<rect x="1308" y="230" width="1" height="16" fill="#089981"/>
<rect x="1306" y="233" width="5" height="10" fill="#089981"/>
<rect x="1315" y="232" width="1" height="7" fill="#f23645"/>
<rect x="1313" y="233" width="5" height="5" fill="#f23645"/>
<rect x="1321" y="240" width="1" height="8" fill="#089981"/>
<rect x="1319" y="240" width="5" height="1" fill="#089981"/>
<rect x="1327" y="230" width="1" height="10" fill="#089981"/>
<rect x="1325" y="232" width="5" height="8" fill="#089981"/>
<rect x="1333" y="217" width="1" height="16" fill="#089981"/>
<rect x="1331" y="219" width="5" height="14" fill="#089981"/>
<rect x="1340" y="207" width="1" height="15" fill="#089981"/>
<rect x="1338" y="210" width="5" height="10" fill="#089981"/>
<rect x="1346" y="210" width="1" height="36" fill="#f23645"/>
<rect x="1344" y="210" width="5" height="36" fill="#f23645"/>
<rect x="1352" y="223" width="1" height="23" fill="#089981"/>
<rect x="1350" y="228" width="5" height="18" fill="#089981"/>
<rect x="1359" y="234" width="1" height="12" fill="#089981"/>
<rect x="1357" y="241" width="5" height="5" fill="#089981"/>
<rect x="1365" y="230" width="1" height="13" fill="#089981"/>
<rect x="1363" y="231" width="5" height="11" fill="#089981"/>
<rect x="1371" y="177" width="1" height="57" fill="#089981"/>
<rect x="1369" y="185" width="5" height="47" fill="#089981"/>
<rect x="1377" y="177" width="1" height="19" fill="#f23645"/>
<rect x="1375" y="186" width="5" height="2" fill="#f23645"/>
<rect x="1384" y="158" width="1" height="30" fill="#089981"/>
<rect x="1382" y="171" width="5" height="17" fill="#089981"/>
<rect x="1390" y="171" width="1" height="32" fill="#f23645"/>
<rect x="1388" y="171" width="5" height="25" fill="#f23645"/>
<rect x="1396" y="187" width="1" height="10" fill="#089981"/>
<rect x="1394" y="188" width="5" height="8" fill="#089981"/>
<rect x="1403" y="180" width="1" height="15" fill="#089981"/>
<rect x="1401" y="184" width="5" height="5" fill="#089981"/>
<rect x="1409" y="165" width="1" height="23" fill="#089981"/>
<rect x="1407" y="169" width="5" height="16" fill="#089981"/>
</g>
<line x1="0" y1="168.5" x2="1717" y2="168.5" stroke="#f23645" stroke-width="1" stroke-dasharray="1 2" shape-rendering="crispEdges"/>
<line x1="0" y1="169.5" x2="1717" y2="169.5" stroke="#2962ff" stroke-width="1" stroke-dasharray="1 2" shape-rendering="crispEdges"/>
<line x1="1717.5" y1="0" x2="1717.5" y2="675" stroke="#eceef2" stroke-width="1" shape-rendering="crispEdges"/>
<line x1="0" y1="675.5" x2="1792" y2="675.5" stroke="#e0e3eb" stroke-width="1" shape-rendering="crispEdges"/>
<line x1="1791.5" y1="0" x2="1791.5" y2="705" stroke="#eceef2" stroke-width="1" shape-rendering="crispEdges"/>
<defs><clipPath id="pc"><rect x="1718" y="0" width="74" height="675"/></clipPath></defs>
<g class="t" font-size="14" fill="#131722" text-anchor="end" clip-path="url(#pc)">
<text x="1779.5" y="20.3">5120.00</text>
<text x="1779.5" y="61.4">5080.00</text>
<text x="1779.5" y="102.5">5040.00</text>
<text x="1779.5" y="143.7">5000.00</text>
<text x="1779.5" y="184.8">4960.00</text>
<text x="1779.5" y="225.9">4920.00</text>
<text x="1779.5" y="267.0">4880.00</text>
<text x="1779.5" y="308.1">4840.00</text>
<text x="1779.5" y="349.3">4800.00</text>
<text x="1779.5" y="390.4">4760.00</text>
<text x="1779.5" y="431.5">4720.00</text>
<text x="1779.5" y="472.6">4680.00</text>
<text x="1779.5" y="513.7">4640.00</text>
<text x="1779.5" y="554.9">4600.00</text>
<text x="1779.5" y="596.0">4560.00</text>
<text x="1779.5" y="637.1">4520.00</text>
<text x="1779.5" y="678.2">4480.00</text>
</g>
<path d="M1719,159.15 H1785 a2,2 0 0 1 2,2 V177.85 a2,2 0 0 1 -2,2 H1719 Z" fill="#089981"/>
<text class="t" x="1779.2" y="174.8" font-size="13.8" fill="#fff" stroke="#fff" stroke-width="0.45" text-anchor="end">4970.19</text>
<path d="M1719,201.10 H1785 a2,2 0 0 1 2,2 V220.50 a2,2 0 0 1 -2,2 H1719 Z" fill="#e91e63"/>
<text class="t" x="1779.2" y="217.1" font-size="13.8" fill="#fff" stroke="#fff" stroke-width="0.45" text-anchor="end">4929.26</text>
<path d="M1719,221.40 H1785 a2,2 0 0 1 2,2 V240.10 a2,2 0 0 1 -2,2 H1719 Z" fill="#9c27b0"/>
<text class="t" x="1779.2" y="237.1" font-size="13.8" fill="#fff" stroke="#fff" stroke-width="0.45" text-anchor="end">4913.67</text>
<path d="M1719,355.15 H1785 a2,2 0 0 1 2,2 V373.85 a2,2 0 0 1 -2,2 H1719 Z" fill="#4caf50"/>
<text class="t" x="1779.2" y="370.8" font-size="13.8" fill="#fff" stroke="#fff" stroke-width="0.45" text-anchor="end">4779.69</text>
<path d="M1719,647.15 H1785 a2,2 0 0 1 2,2 V665.85 a2,2 0 0 1 -2,2 H1719 Z" fill="#4caf50"/>
<text class="t" x="1779.2" y="662.8" font-size="13.8" fill="#fff" stroke="#fff" stroke-width="0.45" text-anchor="end">4495.68</text>
<g class="t" font-size="14" fill="#131722" text-anchor="middle">
<text x="76.6" y="695">12</text>
<text x="189.8" y="695">17</text>
<text x="302.9" y="695">22</text>
<text x="416.1" y="695">25</text>
<text x="510.3" y="695">12:00</text>
<text x="717.8" y="695">6</text>
<text x="830.9" y="695">9</text>
<text x="944.1" y="695">14</text>
<text x="1057.2" y="695">19</text>
<text x="1170.3" y="695">22</text>
<text x="1283.5" y="695">27</text>
<text x="1528.5" y="695">5</text>
<text x="1623.5" y="695">10</text>
<text x="604.6" y="695" font-weight="bold" font-size="13.2">Aug</text>
<text x="1434.5" y="695" font-weight="bold" font-size="13.2">Sep</text>
</g>
<svg x="0" y="676" width="1719" height="29"><text class="t" x="1717" y="19" font-size="14" fill="#131722" text-anchor="middle">13</text></svg>
<g transform="translate(1755.5,691.5)" fill="none" stroke="#131722" stroke-width="1.3">
<circle cx="0" cy="0" r="4.9"/>
<line x1="5.00" y1="0.00" x2="7.40" y2="0.00"/>
<line x1="3.54" y1="3.54" x2="4.95" y2="4.95"/>
<line x1="0.00" y1="5.00" x2="0.00" y2="7.40"/>
<line x1="-3.54" y1="3.54" x2="-4.95" y2="4.95"/>
<line x1="-5.00" y1="0.00" x2="-7.40" y2="0.00"/>
<line x1="-3.54" y1="-3.54" x2="-4.95" y2="-4.95"/>
<line x1="-0.00" y1="-5.00" x2="-0.00" y2="-7.40"/>
<line x1="3.54" y1="-3.54" x2="4.95" y2="-4.95"/>
</g>
<rect x="0" y="72" width="198" height="47" fill="rgba(255,255,255,0.5)"/>
</svg>
<div style="position:absolute;left:9px;top:5px;font-size:15px;color:#131722;white-space:nowrap;">Euro50 · 4h</div>
<div style="position:absolute;left:102px;top:4px;width:18px;height:18px;border-radius:9px;background:rgba(8,153,129,0.15)"></div>
<div style="position:absolute;left:107px;top:9px;width:8px;height:8px;border-radius:4px;background:#089981"></div>
<div style="position:absolute;left:136px;top:6px;font-size:13px;color:#089981;white-space:nowrap;"><span style="color:#131722">O</span>4955.77 <span style="color:#131722">H</span>4974.41 <span style="color:#131722">L</span>4952.20 <span style="color:#131722">C</span>4970.19 +14.42 (+0.29%)</div>
<div style="position:absolute;left:8px;top:29px;width:60px;height:36px;border:1px solid #f23645;border-radius:3px;color:#f23645;font-size:13px;line-height:38px;text-align:center;">4970.19</div>
<div style="position:absolute;left:74px;top:45px;width:48px;height:22px;border-radius:3px;background:#f8f9fd;"></div>
<div style="position:absolute;left:74px;top:30px;width:48px;font-size:11px;color:#131722;text-align:center;">1.38</div>
<div style="position:absolute;left:74px;top:49px;width:48px;font-size:12px;color:#131722;text-align:center;">600.1</div>
<div style="position:absolute;left:126px;top:29px;width:59px;height:36px;border:1px solid #089981;border-radius:3px;color:#089981;font-size:13px;line-height:38px;text-align:center;">4971.57</div>
<div style="position:absolute;left:9px;top:77px;font-size:12px;color:#2a2e39;white-space:nowrap;">EMA 21 close 0 SMA 9</div>
<div style="position:absolute;left:146px;top:76.5px;font-size:12.5px;letter-spacing:0.2px;color:#e91e63;white-space:nowrap;">4929.26</div>
<div style="position:absolute;left:9px;top:101px;font-size:12px;color:#2a2e39;white-space:nowrap;">EMA 34 close 0 SMA 9</div>
<div style="position:absolute;left:146px;top:100.5px;font-size:12.5px;letter-spacing:0.2px;color:#9c27b0;white-space:nowrap;">4913.67</div>
<div style="position:absolute;left:9px;top:121px;width:27px;height:19px;border:1px solid #d6d9e0;border-radius:3px;background:#fff;"></div>
<svg style="position:absolute;left:16px;top:126px" width="14" height="10"><path d="M3.4,7.7 L7.5,4 L11.6,7.7" fill="none" stroke="#131722" stroke-width="1.4"/></svg>
</body></html>
